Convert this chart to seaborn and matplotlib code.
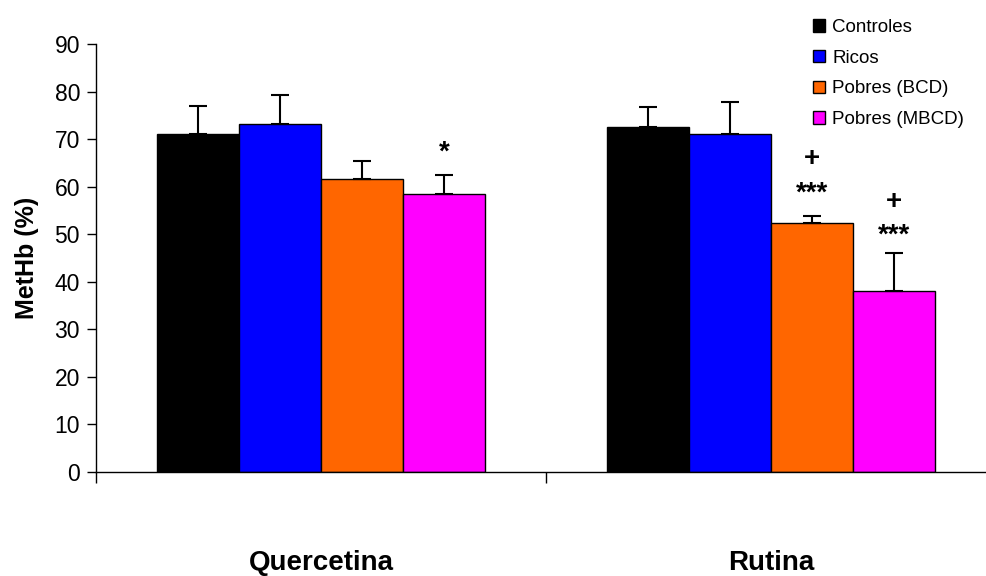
import numpy as np
import pandas as pd
import seaborn as sns
import matplotlib.pyplot as plt

sns.set_style("ticks")
plt.rcParams['font.family'] = ['Liberation Sans', 'DejaVu Sans']
plt.rcParams.update({"text.color": "black", "axes.labelcolor": "black",
                     "xtick.color": "black", "ytick.color": "black",
                     "axes.edgecolor": "black"})

# datos
compuestos = ["Quercetina", "Rutina"]
grupos = ["Controles", "Ricos", "Pobres (BCD)", "Pobres (MBCD)"]
quercetina = [71.1, 73.1, 61.7, 58.4]
rutina = [72.5, 71.1, 52.4, 38.1]
err_quercetina = [5.8, 6.2, 3.8, 4.1]
err_rutina = [4.3, 6.8, 1.4, 7.9]
colores = ["#000000", "#0000ff", "#ff6600", "#ff00ff"]

# marcas de significancia (compuesto, grupo, texto, y)
marcas = [
    ("Quercetina", "Pobres (MBCD)", "*", 65.6),
    ("Rutina", "Pobres (BCD)", "+", 64.4),
    ("Rutina", "Pobres (BCD)", "***", 57.1),
    ("Rutina", "Pobres (MBCD)", "+", 55.4),
    ("Rutina", "Pobres (MBCD)", "***", 48.3),
]

df = pd.DataFrame({
    "compuesto": np.repeat(compuestos, len(grupos)),
    "grupo": grupos * len(compuestos),
    "valor": quercetina + rutina,
    "err": err_quercetina + err_rutina,
})

fig = plt.figure(figsize=(9.86, 5.76), dpi=100)
ax = fig.add_axes([96 / 986, 104 / 576, 900 / 986, 428 / 576])

sns.barplot(data=df, x="compuesto", y="valor", hue="grupo", order=compuestos,
            hue_order=grupos, palette=colores, width=0.73, errorbar=None,
            edgecolor="black", linewidth=1.0, saturation=1, ax=ax)

# barras de error solo hacia arriba
pos = {}
for cont, g in zip(ax.containers, grupos):
    for patch, c in zip(cont.patches, compuestos):
        xc = patch.get_x() + patch.get_width() / 2
        pos[(c, g)] = xc
        row = df[(df.compuesto == c) & (df.grupo == g)].iloc[0]
        ax.errorbar(xc, row.valor, yerr=[[0], [row.err]], fmt="none",
                    ecolor="black", elinewidth=1.5, capsize=6.5, capthick=1.5,
                    zorder=1)

for c, g, txt, y in marcas:
    ax.text(pos[(c, g)], y, txt, ha="center", va="baseline",
            fontsize=20, fontweight="bold")

ax.set_ylim(0, 90)
ax.set_xlim(-0.5, 1.5)
ax.set_yticks(range(0, 91, 10))
ax.tick_params(axis="y", labelsize=16.5, length=6.5, width=1, pad=5)
ax.set_xticks([-0.5, 0.5, 1.5])
ax.set_xticklabels([])
ax.set_xticks([0, 1], minor=True)
ax.set_xticklabels(compuestos, minor=True, fontsize=20, fontweight="bold")
ax.tick_params(axis="x", which="major", length=8, width=1, direction="out")
ax.tick_params(axis="x", which="minor", length=0, pad=56)
ax.set_xlabel("")
ax.set_ylabel("MetHb (%)", fontsize=18, fontweight="bold", labelpad=11)
sns.despine(ax=ax)
for s in ["left", "bottom"]:
    ax.spines[s].set_linewidth(1)

ax.legend(loc="upper left", bbox_to_anchor=(813 / 986, 1 - 19 / 576),
          bbox_transform=fig.transFigure, frameon=False, fontsize=13.5,
          handlelength=0.65, handleheight=0.65, handletextpad=0.37,
          labelspacing=0.73, borderpad=0, borderaxespad=0)

fig.savefig("out.png", dpi=100)
